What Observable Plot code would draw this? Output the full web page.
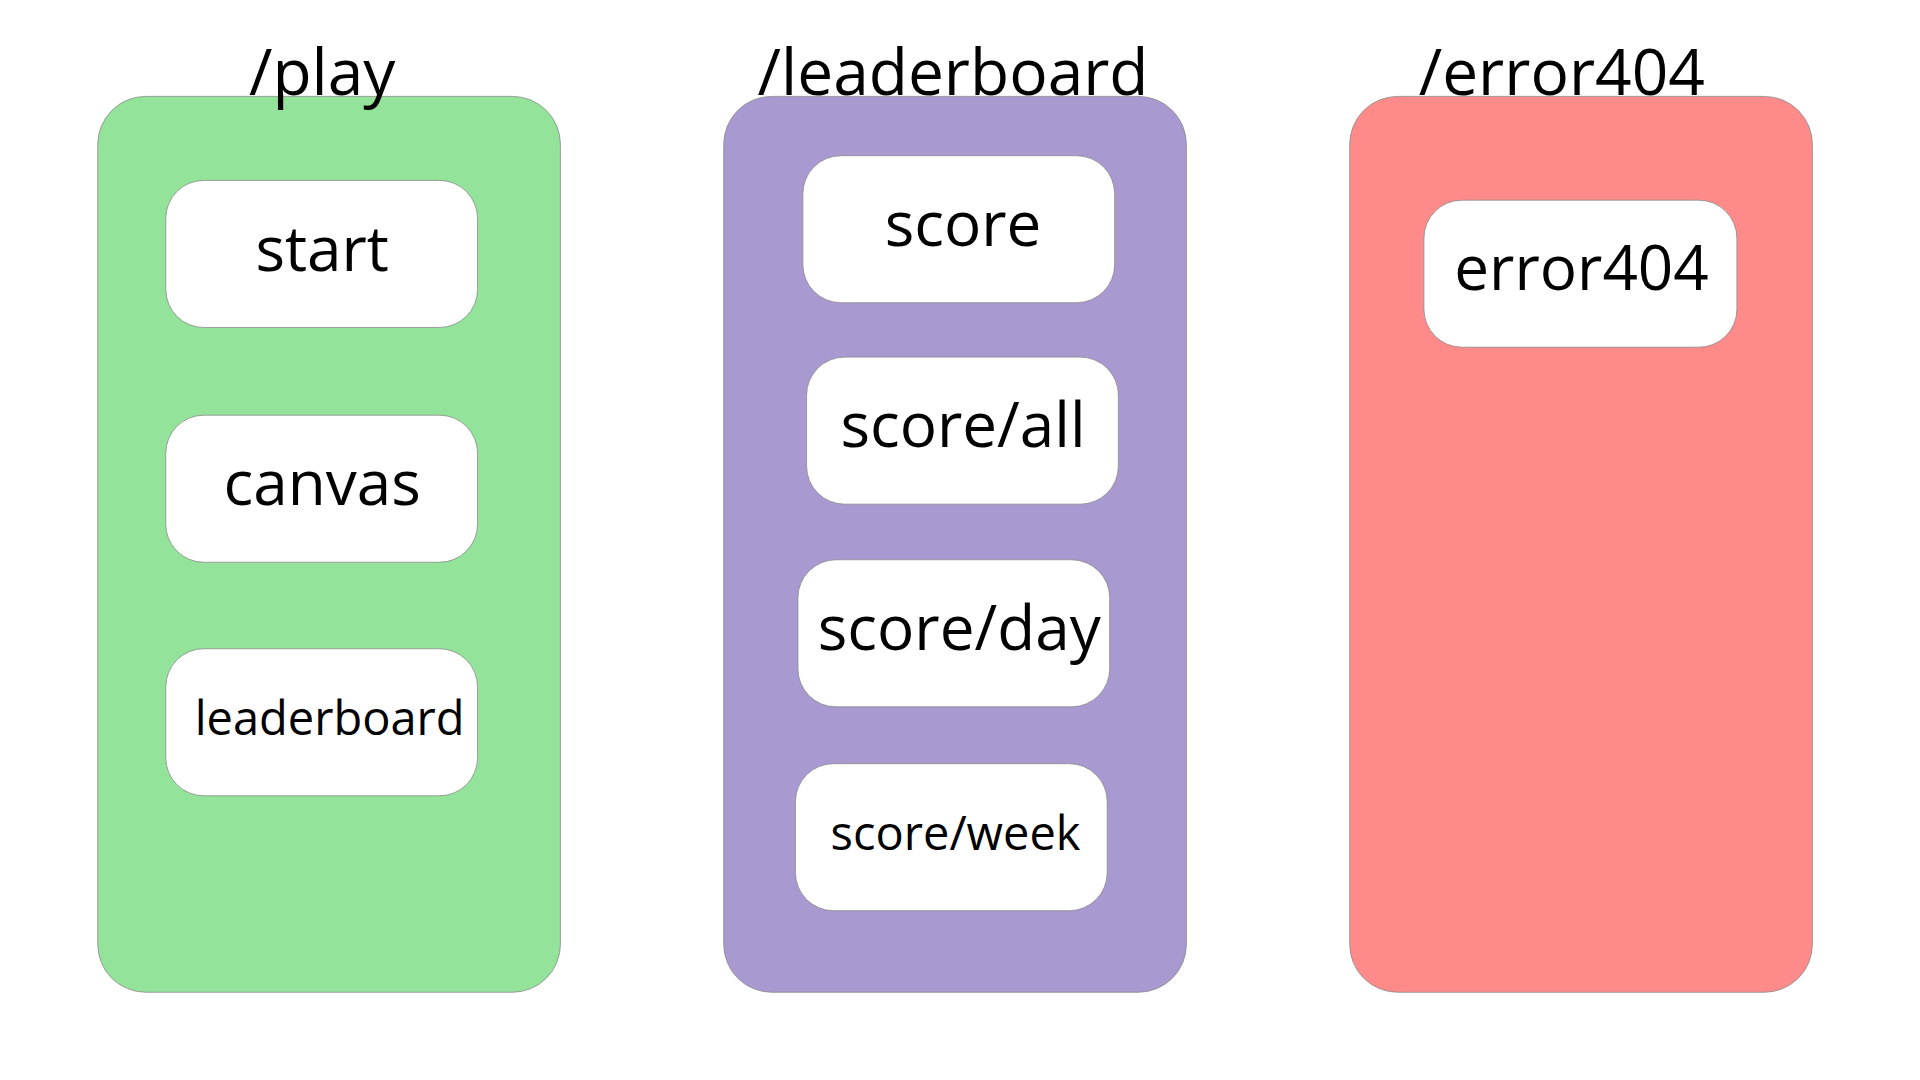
<!DOCTYPE html>
<html>
<head>
<meta charset="utf-8">
<script src="https://cdn.jsdelivr.net/npm/d3@7"></script>
<script src="https://cdn.jsdelivr.net/npm/@observablehq/plot@0.6"></script>
<style>
  body { margin: 0; background: #fff; }
</style>
</head>
<body>
<div id="chart"></div>
<script>
// route groups (picture units, 1552 x 874 canvas)
const groups = ["/play", "/leaderboard", "/error404"];
const groupX1 = [79, 585, 1091];
const groupX2 = [453, 959, 1465];
const groupTitleX = [260, 770, 1262];
const groupTop = 78, groupBottom = 803;

// endpoints inside each group
const endpoints = ["start", "canvas", "leaderboard", "score", "score/all", "score/day", "score/week", "error404"];
const endpointGroup = ["/play", "/play", "/play", "/leaderboard", "/leaderboard", "/leaderboard", "/leaderboard", "/error404"];
const endpointX1 = [134, 134, 134, 649, 652, 645, 643, 1151];
const endpointX2 = [386, 386, 386, 901, 904, 897, 895, 1404];
const endpointY1 = [146, 336, 525, 126, 289, 453, 618, 162];
const endpointY2 = [265, 455, 644, 245, 408, 572, 737, 281];
const endpointTextX = [260, 260, 266, 778, 778, 775, 772, 1278];

const k = 1920 / 1552;
const colors = {"/play": "#94e39a", "/leaderboard": "#a899d1", "/error404": "#ff8a8a"};
const smallLabels = new Set(["leaderboard", "score/week"]);

const groupData = groups.map((g, i) => ({g, x1: groupX1[i], x2: groupX2[i], tx: groupTitleX[i]}));
const epData = endpoints.map((e, i) => ({
  e, g: endpointGroup[i], x1: endpointX1[i], x2: endpointX2[i],
  y1: endpointY1[i], y2: endpointY2[i], tx: endpointTextX[i]
}));

const font = "'Open Sans', 'Noto Sans', sans-serif";

const chart = Plot.plot({
  width: 1920,
  height: 1080,
  margin: 0,
  x: {domain: [0, 1552], axis: null},
  y: {domain: [874, 0], axis: null},
  style: {fontFamily: font, background: "#fff"},
  marks: [
    Plot.rect(groupData, {
      x1: "x1", x2: "x2", y1: groupTop, y2: groupBottom,
      fill: d => colors[d.g], stroke: "#8a8a8a", strokeWidth: 0.8, rx: 48
    }),
    Plot.rect(epData, {
      x1: "x1", x2: "x2", y1: "y1", y2: "y2",
      fill: "white", stroke: "#8a8a8a", strokeWidth: 0.8, rx: 38
    }),
    Plot.text(groupData, {
      x: "tx", y: 60, text: "g", fontSize: 64, fill: "black", lineAnchor: "middle"
    }),
    Plot.text(epData.filter(d => !smallLabels.has(d.e)), {
      x: "tx", y: d => (d.y1 + d.y2) / 2 - 3, text: "e", fontSize: 62, fill: "black"
    }),
    Plot.text(epData.filter(d => smallLabels.has(d.e)), {
      x: "tx", y: d => (d.y1 + d.y2) / 2 - 2, text: "e", fontSize: 47, fill: "black"
    })
  ]
});

document.getElementById("chart").append(chart);
</script>
</body>
</html>
